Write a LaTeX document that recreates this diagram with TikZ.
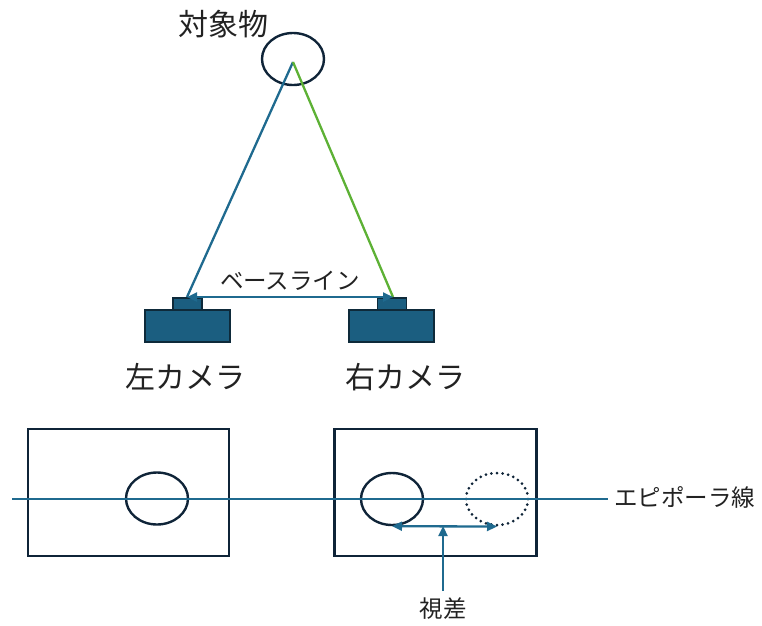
\documentclass[tikz,border=0pt]{standalone}
\usepackage{fontspec}
\setmainfont{Noto Sans CJK JP}
\usetikzlibrary{arrows.meta,shapes.geometric}
\definecolor{navy}{HTML}{0F2438}
\definecolor{lineblue}{HTML}{1F6A8F}
\definecolor{camfill}{HTML}{1B5E80}
\definecolor{camedge}{HTML}{0E2A3A}
\definecolor{lgreen}{HTML}{5DB135}
\definecolor{txt}{HTML}{222222}
\tikzset{
  obj/.style={ellipse,draw=navy,line width=2.4pt,minimum width=62pt,minimum height=52pt,inner sep=0pt},
  dotobj/.style={ellipse,draw=navy,line width=3pt,dash pattern=on 0pt off 5.6pt,line cap=round,minimum width=62pt,minimum height=52pt,inner sep=0pt},
  frame/.style={draw=navy,line width=2.6pt,rectangle,inner sep=0pt},
  cam/.style={draw=camedge,fill=camfill,line width=1.5pt,rectangle,inner sep=0pt},
  lbl/.style={text=txt,inner sep=0pt,font=\fontsize{23.5pt}{26pt}\selectfont},
  biglbl/.style={text=txt,inner sep=0pt,font=\fontsize{30pt}{33pt}\selectfont},
  bl/.style={draw=lineblue,line width=2.3pt},
  tip/.style={-{Triangle[length=10pt,width=9pt]}},
  tips/.style={{Triangle[length=10pt,width=9pt]}-{Triangle[length=10pt,width=9pt]}}
}
\begin{document}
\begin{tikzpicture}[x=1pt,y=-1pt]
\useasboundingbox (0,0) rectangle (762,625);
% object
\node[obj] (obj) at (293,59) {};
\node[biglbl] (objlbl) at (223,24) {対象物};
\coordinate (apex) at (293,62);
% cameras
\node[cam,minimum width=85pt,minimum height=32pt] (lbody) at (187.5,326) {};
\node[cam,minimum width=29pt,minimum height=12pt] (ltop) at (187.5,304) {};
\node[cam,minimum width=85pt,minimum height=32pt] (rbody) at (391.5,326) {};
\node[cam,minimum width=29pt,minimum height=12pt] (rtop) at (392,304) {};
\coordinate (lend) at (187,297);
\coordinate (rend) at (393,297);
\draw[bl] (apex) -- (lend);
\draw[draw=lgreen,line width=2.3pt] (apex) -- (rend);
\draw[bl,tips] (lend) -- (rend);
\node[lbl] (base) at (290,281) {ベースライン};
\node[biglbl] (lcamlbl) at (185,377) {左カメラ};
\node[biglbl] (rcamlbl) at (405,377) {右カメラ};
% image planes
\node[frame,minimum width=201pt,minimum height=127pt] (limg) at (128.5,492.5) {};
\node[frame,minimum width=202pt,minimum height=127pt] (rimg) at (435.5,492.5) {};
\node[obj] (lobj) at (157,498.5) {};
\node[obj] (robj) at (392,499) {};
\node[dotobj] (dobj) at (497,499) {};
% epipolar line
\coordinate (epl) at (12,499);
\coordinate (epr) at (608,499);
\node[lbl,anchor=west] (eplbl) at (614,497) {エピポーラ線};
\draw[bl] (epl) -- (epr);
% disparity
\draw[bl,tips] (robj.south) -- (dobj.south);
\node[lbl] (disp) at (443,609) {視差};
\coordinate (dtip) at (443,526);
\coordinate (dbot) at (443,591);
\draw[bl,tip] (dbot) -- (dtip);
\end{tikzpicture}
\end{document}
